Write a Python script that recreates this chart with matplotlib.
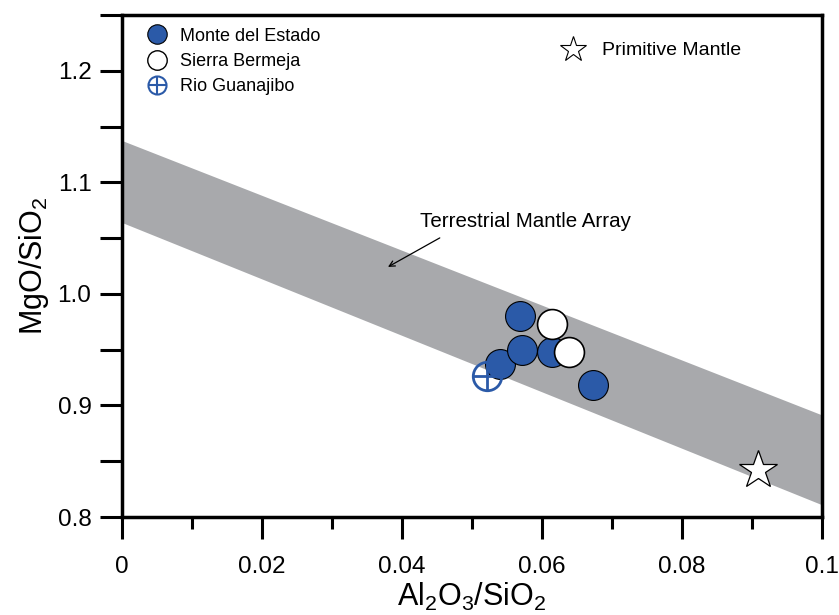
import matplotlib
matplotlib.use("Agg")
from matplotlib import pyplot as plt
from matplotlib.lines import Line2D
from matplotlib.legend_handler import HandlerTuple
from matplotlib.ticker import MultipleLocator
import numpy as np

plt.rcParams['font.family'] = ['Liberation Sans', 'DejaVu Sans']

# data
monte_x = [0.0540, 0.0568, 0.0614, 0.0571, 0.0673]
monte_y = [0.937, 0.980, 0.948, 0.950, 0.918]
sierra_x = [0.0614, 0.0639]
sierra_y = [0.973, 0.948]
rio_x = [0.0521]
rio_y = [0.926]
pm_x = [0.0909]
pm_y = [0.842]

# terrestrial mantle array band (x ends, upper and lower edges)
tma_x = [0.0, 0.1]
tma_upper = [1.1375, 0.8915]
tma_lower = [1.064, 0.811]

blue = '#2b5aa8'
grey = '#a8a9ac'

fig = plt.figure(figsize=(8.39, 6.15), dpi=100)
ax = fig.add_axes([0.1454, 0.1593, 0.8343, 0.8163])

ax.fill_between(tma_x, tma_lower, tma_upper, color=grey, lw=0, zorder=1)

ax.plot(monte_x, monte_y, 'o', ms=21.5, mfc=blue, mec='black', mew=0.8, ls='none', zorder=3)
ax.plot(sierra_x, sierra_y, 'o', ms=21.5, mfc='white', mec='black', mew=1.2, ls='none', zorder=4)
ax.plot(rio_x, rio_y, 'o', ms=20.5, mfc='none', mec=blue, mew=2.0, ls='none', zorder=5)
ax.plot(rio_x, rio_y, '+', ms=20.5, mec=blue, mew=2.0, ls='none', zorder=5)
ax.plot(pm_x, pm_y, '*', ms=29, mfc='white', mec='black', mew=0.9, ls='none', zorder=5)

# label and arrow for the mantle array
ax.text(0.04257, 1.0646, 'Terrestrial Mantle Array', fontsize=14.8, ha='left', va='center')
ax.annotate('', xy=(0.0380, 1.0242), xytext=(0.0454, 1.0502),
            arrowprops=dict(arrowstyle='->', color='black', lw=0.9, shrinkA=0, shrinkB=0))

ax.set_xlim(0, 0.1)
ax.set_ylim(0.8, 1.25)

ax.xaxis.set_minor_locator(MultipleLocator(0.01))
ax.yaxis.set_minor_locator(MultipleLocator(0.05))
ax.set_xticks([0, 0.02, 0.04, 0.06, 0.08, 0.1])
ax.set_xticklabels(['0', '0.02', '0.04', '0.06', '0.08', '0.1'])
ax.set_yticks([0.8, 0.9, 1.0, 1.1, 1.2])
ax.set_yticklabels(['0.8', '0.9', '1.0', '1.1', '1.2'])

ax.tick_params(axis='both', which='major', direction='out', length=16, width=2.2,
               labelsize=17.5, color='black')
ax.tick_params(axis='x', which='major', pad=12)
ax.tick_params(axis='y', which='major', pad=6)
ax.tick_params(axis='x', which='minor', direction='out', length=8.5, width=2.2)
ax.tick_params(axis='y', which='minor', direction='out', length=16, width=2.2)
for s in ax.spines.values():
    s.set_linewidth(2.5)

ax.set_xlabel('$\\mathregular{Al_2O_3/SiO_2}$', fontsize=22, labelpad=2)
ax.set_ylabel('$\\mathregular{MgO/SiO_2}$', fontsize=22, labelpad=5)

h_monte = Line2D([], [], marker='o', ms=14, mfc=blue, mec='black', mew=0.8, ls='none')
h_sierra = Line2D([], [], marker='o', ms=14, mfc='white', mec='black', mew=1.0, ls='none')
h_rio = (Line2D([], [], marker='o', ms=13, mfc='none', mec=blue, mew=1.5, ls='none'),
         Line2D([], [], marker='+', ms=13, mec=blue, mew=1.5, ls='none'))
leg = ax.legend([h_monte, h_sierra, h_rio], ['Monte del Estado', 'Sierra Bermeja', 'Rio Guanajibo'],
                handler_map={tuple: HandlerTuple(ndivide=1)},
                loc='upper left', bbox_to_anchor=(0.027, 0.989), frameon=False, fontsize=13,
                handlelength=1.0, handletextpad=0.77, labelspacing=0.45, borderaxespad=0)
ax.add_artist(leg)

h_pm = Line2D([], [], marker='*', ms=19, mfc='white', mec='black', mew=0.8, ls='none')
ax.legend([h_pm], ['Primitive Mantle'], loc='upper left', bbox_to_anchor=(0.619, 0.962),
          frameon=False, fontsize=14, handlelength=1.0, handletextpad=1.0, borderaxespad=0)

fig.savefig('out.png', dpi=100)
